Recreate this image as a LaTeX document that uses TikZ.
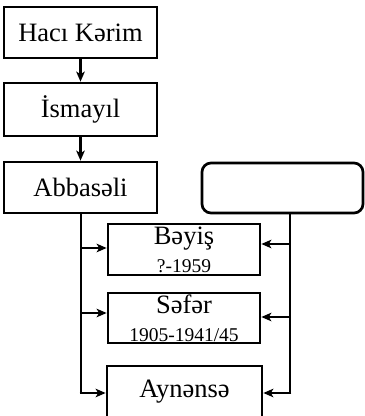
\documentclass[tikz,border=0pt]{standalone}
\usepackage{fontspec}
\setmainfont{Liberation Serif}
\usetikzlibrary{arrows.meta}
\newcommand{\smalldates}{\fontsize{19.5}{22.5}\selectfont}
\newcommand{\topstrut}{\rule{0pt}{19pt}}
\begin{document}
\begin{tikzpicture}[x=1pt,y=-1pt,
  box/.style={draw=black, line width=2.7pt, inner sep=0pt, minimum width=153pt,
              minimum height=51pt, font=\fontsize{26.5}{28}\selectfont, align=center},
  rbox/.style={box, rounded corners=9pt, minimum width=161pt, minimum height=50pt},
  conn/.style={line width=2.7pt, -{Stealth[length=10pt,width=8.5pt,inset=2.5pt]}},
  bus/.style={line width=2.7pt}
]
\useasboundingbox (0,0) rectangle (365,416);
\clip (0,0) rectangle (365,416);
\fill[white] (0,0) rectangle (365,416);

\node[box] (hk) at (80.5,32.5) {Hacı Kərim};
\node[box, minimum height=53pt] (is) at (80.5,109.5) {İsmayıl};
\node[box] (ab) at (80.5,187.5) {Abbasəli};
\node[rbox] (rb) at (282.5,188) {};
\node[box, minimum width=152pt] (be) at (184,249.5) {\topstrut Bəyiş\\\smalldates ?-1959};
\node[box, minimum width=152pt, minimum height=50pt] (se) at (184,318) {\topstrut Səfər\\\smalldates 1905-1941/45};
\node[box, minimum width=155pt, minimum height=52pt] (ay) at (184.5,392) {Aynənsə};

\draw[conn] (hk) -- (is);
\draw[conn] (is) -- (ab);

\coordinate (l1) at (81,248);
\coordinate (l2) at (81,313);
\coordinate (l3) at (81,393);
\coordinate (r1) at (290,244);
\coordinate (r2) at (290,317);
\coordinate (r3) at (290,393);

\draw[bus] (ab.south -| l3) -- (l3);
\draw[bus] (rb.south -| r3) -- (r3);

\draw[conn] (l1) -- (l1 -| be.west);
\draw[conn] (l2) -- (l2 -| se.west);
\draw[conn] ([xshift=-1.35pt]l3) -- (l3 -| ay.west);
\draw[conn] (r1) -- (r1 -| be.east);
\draw[conn] (r2) -- (r2 -| se.east);
\draw[conn] ([xshift=1.35pt]r3) -- (r3 -| ay.east);
\end{tikzpicture}
\end{document}
